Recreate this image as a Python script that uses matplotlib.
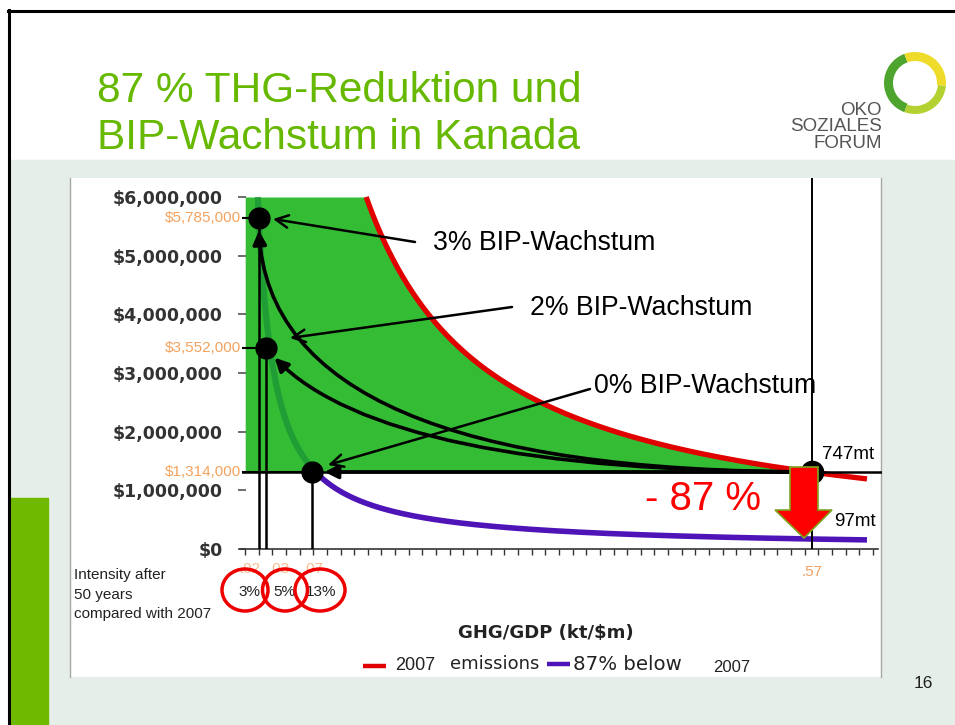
import numpy as np
import matplotlib
matplotlib.use("Agg")
import matplotlib.pyplot as plt
from matplotlib.patches import Rectangle, Ellipse, Polygon, Wedge

# ---------------- data ----------------
emissions_2007_kt = 747000      # 747 mt
emissions_target_kt = 97000     # 97 mt (87 % below 2007)
emission_labels = ["747mt", "97mt"]
intensity_2007 = 0.57           # kt / $m
gdp_2007 = 1314000              # $m
gdp_cap = 6000000               # top of the shaded region
intensity_end = 0.625

scenario_names = ["3% BIP-Wachstum", "2% BIP-Wachstum", "0% BIP-Wachstum"]
scenario_intensity = [0.017, 0.0245, 0.0703]
scenario_gdp = [5640000, 3420000, 1314000]
scenario_gdp_labels = ["$5,785,000", "$3,552,000", "$1,314,000"]
intensity_labels = [".02", ".03", ".07"]
intensity_share = ["3%", "5%", "13%"]
intensity_2007_label = ".57"

y_ticks = [0, 1000000, 2000000, 3000000, 4000000, 5000000, 6000000]
y_tick_labels = ["$0", "$1,000,000", "$2,000,000", "$3,000,000",
                 "$4,000,000", "$5,000,000", "$6,000,000"]
x_tick_first, x_tick_step, x_tick_last = 0.0034, 0.01364, 0.634

title_lines = ["87 % THG-Reduktion und", "BIP-Wachstum in Kanada"]
reduction_label = "- 87 %"
x_axis_title = "GHG/GDP (kt/$m)"
intensity_note = ["Intensity after", "50 years", "compared with 2007"]
legend_items = ["2007", "emissions", "87% below", "2007"]
logo_lines = ["OKO", "SOZIALES", "FORUM"]
page_number = "16"

ARIAL = "Liberation Sans"
VERD = "DejaVu Sans"

# ---------------- figure ----------------
W, H = 955, 725
fig = plt.figure(figsize=(W / 100, H / 100), dpi=100)

bg = fig.add_axes([0, 0, 1, 1], zorder=0)
bg.set_xlim(0, W); bg.set_ylim(H, 0); bg.axis("off")
bg.add_patch(Rectangle((0, 0), W, H, color="white", zorder=0))
bg.add_patch(Rectangle((9, 160), W, H, color="#e5eee8", zorder=1))
bg.add_patch(Rectangle((70, 178), 811, 499, facecolor="white", edgecolor="none", zorder=2))
bg.plot([70, 70], [178, 677], color="#a8a8a8", lw=1, zorder=3)
bg.plot([881, 881], [178, 677], color="#a8a8a8", lw=1, zorder=3)
bg.add_patch(Rectangle((10, 498), 38, 230, color="#6fba00", zorder=3))
bg.plot([8.5, 8.5], [10, 726], color="black", lw=2.2, zorder=4)
bg.plot([7.5, 956], [11, 11], color="black", lw=2.2, zorder=4)

bg.text(97, 102, title_lines[0], fontsize=30.5, color="#66b800", family=ARIAL, va="baseline")
bg.text(97, 149, title_lines[1], fontsize=30.5, color="#66b800", family=ARIAL, va="baseline")

# logo
def vis_wedge(c, r, a1, a2, w, col):
    bg.add_patch(Wedge(c, r, -a2, -a1, width=w, color=col, zorder=5, lw=0))
vis_wedge((915, 83), 31, 110, 250, 9, "#4ea52e")
vis_wedge((915, 83), 31, 250, 355, 8, "#b3d232")
vis_wedge((915, 83), 31, -5, 110, 9, "#efdc2a")
for i, s in enumerate(logo_lines):
    bg.text(882, 110 + 16.5 * i, s, fontsize=13.5, color="#555555", family=ARIAL,
            ha="right", va="center")
bg.text(923.5, 683.5, page_number, fontsize=12.5, color="#222222", family=ARIAL,
        ha="center", va="center")

# ---------------- chart axes ----------------
x0_px, y0_px, right_px, top_px = 241.6, 549.0, 882.0, 178.0
px_per_x = 1000.6
px_per_million = 58.667
ax = fig.add_axes([x0_px / W, 1 - y0_px / H, (right_px - x0_px) / W, (y0_px - top_px) / H], zorder=2)
ax.patch.set_alpha(0)
xmax = (right_px - x0_px) / px_per_x
ymax = (y0_px - top_px) / px_per_million * 1e6
ax.set_xlim(0, xmax)
ax.set_ylim(0, ymax)

for s in ["top", "right", "left"]:
    ax.spines[s].set_visible(False)
ax.spines["bottom"].set_bounds(-0.0016, x_tick_last + 0.002)
ax.spines["bottom"].set_color("#333333")
ax.spines["bottom"].set_linewidth(1.2)

ax.set_xticks(np.arange(x_tick_first, x_tick_last, x_tick_step))
ax.tick_params(axis="x", direction="out", length=4, width=1, color="#333333", labelbottom=False)
ax.set_yticks(y_ticks, y_tick_labels)
ax.tick_params(axis="y", direction="inout", length=6, width=1.2, color="#555555",
               labelcolor="#333333", pad=10.4)
for lab in ax.get_yticklabels():
    lab.set_fontfamily(VERD); lab.set_fontweight("bold"); lab.set_fontsize(12.5)

# green region between 2007 emissions curve and 2007 GDP
xf = np.linspace(0.0036, emissions_2007_kt / gdp_2007, 500)
ax.fill_between(xf, gdp_2007, np.minimum(emissions_2007_kt / xf, gdp_cap),
                color="#34bd34", lw=0, zorder=1)
# dark green continuation of 97mt curve
xg = np.linspace(emissions_target_kt / gdp_cap, scenario_intensity[2], 300)
ax.plot(xg, emissions_target_kt / xg, color="#1a9436", lw=4.5, alpha=0.75, zorder=2,
        solid_capstyle="butt")
# 2007 emissions curve
xr = np.linspace(emissions_2007_kt / gdp_cap, intensity_end, 400)
ax.plot(xr, emissions_2007_kt / xr, color="#e00000", lw=3.8, zorder=3, solid_capstyle="butt")
# 87 % below curve
xp = np.linspace(scenario_intensity[2], intensity_end, 400)
ax.plot(xp, emissions_target_kt / xp, color="#4f14b8", lw=4, zorder=3, solid_capstyle="butt")

# reference lines
ax.plot([-0.0016, xmax], [gdp_2007, gdp_2007], color="black", lw=1.8, zorder=4)
ax.plot([intensity_2007, intensity_2007], [0, ymax], color="black", lw=1.4, zorder=4)
for xi, yi in zip(scenario_intensity, scenario_gdp):
    ax.plot([xi, xi], [0, yi], color="black", lw=1.8, zorder=4)
    ax.plot([0, xi], [yi, yi], color="black", lw=1.5, zorder=4)

# curved growth paths
angleBs = [90, 130]
for (xi, yi), aB in zip(zip(scenario_intensity[:2], scenario_gdp[:2]), angleBs):
    ax.annotate("", xy=(xi, yi), xytext=(intensity_2007, gdp_2007), zorder=5,
                arrowprops=dict(arrowstyle="-|>", connectionstyle=f"angle3,angleA=0,angleB={aB}",
                                lw=2.6, color="black", shrinkA=0, shrinkB=9, mutation_scale=20))
ax.annotate("", xy=(scenario_intensity[2], gdp_2007), xytext=(intensity_2007, gdp_2007), zorder=5,
            arrowprops=dict(arrowstyle="-|>", lw=2.6, color="black", shrinkA=0, shrinkB=9,
                            mutation_scale=20))

# dots
ax.plot(scenario_intensity, scenario_gdp, "o", color="black", ms=15, zorder=6)
ax.plot([intensity_2007], [gdp_2007], "o", color="black", ms=16, zorder=6)

# orange GDP labels
for yi, lab in zip(scenario_gdp, scenario_gdp_labels):
    ax.text(-0.0008, yi, lab, ha="right", va="center", color="#f3a25e", fontsize=11, family=ARIAL)

# ---------------- overlay ----------------
ov = fig.add_axes([0, 0, 1, 1], zorder=3)
ov.set_xlim(0, W); ov.set_ylim(H, 0); ov.axis("off"); ov.patch.set_alpha(0)

text_pos = [(433, 243), (530, 308), (594, 386)]
arrow_from = [(415, 242), (512, 307), (590, 389)]
arrow_to = [(273, 219), (290, 338), (328, 465)]
for name, tp, a0, a1 in zip(scenario_names, text_pos, arrow_from, arrow_to):
    ov.text(tp[0], tp[1], name, fontsize=19.2, family=ARIAL, ha="left", va="center", color="black")
    ov.annotate("", xy=a1, xytext=a0,
                arrowprops=dict(arrowstyle="->,head_length=0.6,head_width=0.3", lw=1.8,
                                color="black", shrinkA=0, shrinkB=0, mutation_scale=15))

ov.text(822, 454, emission_labels[0], fontsize=13.5, family=ARIAL, ha="left", va="center")
ov.text(834, 522, emission_labels[1], fontsize=13.5, family=ARIAL, ha="left", va="center")
ov.text(703, 499, reduction_label, fontsize=29, family=ARIAL, color="#ff0000", ha="center", va="center")

# big red arrow
arrow_pts = [(790, 467), (818, 467), (818, 510), (832, 510), (804, 538), (775, 510), (790, 510)]
ov.add_patch(Polygon(arrow_pts, closed=True, facecolor="#ff0000", edgecolor="#7ea622", lw=1.2, zorder=5))

# intensity labels
for xpx, lab in zip([250, 279, 313], intensity_labels):
    ov.text(xpx, 569, lab, fontsize=11, family=ARIAL, color="#f5bc90", ha="center", va="center")
ov.text(812, 572, intensity_2007_label, fontsize=11, family=ARIAL, color="#efa060", ha="center", va="center")
for xpx, lab in zip([249, 284, 321], intensity_share):
    ov.text(xpx, 592, lab, fontsize=11, family=ARIAL, color="#222222", ha="center", va="center")
for cx, w in zip([245, 285, 320], [46, 45, 50]):
    ov.add_patch(Ellipse((cx, 590), w, 42, facecolor="none", edgecolor="#ee0000", lw=2.5, zorder=6))

for i, s in enumerate(intensity_note):
    ov.text(74, 575 + 19.5 * i, s, fontsize=11, family=ARIAL, color="#222222", ha="left", va="center")

ov.text(458, 633, x_axis_title, fontsize=13, family=VERD, fontweight="bold", color="#222222",
        ha="left", va="center")

# legend
ov.plot([363, 386], [666, 666], color="#e00000", lw=3.2, solid_capstyle="butt")
ov.text(395, 666, legend_items[0], fontsize=13, family=ARIAL, ha="left", va="center", color="#222222")
ov.text(450, 664, legend_items[1], fontsize=13, family=VERD, ha="left", va="center", color="#222222")
ov.plot([547, 570], [664, 664], color="#4f14b8", lw=3.2, solid_capstyle="butt")
ov.text(573, 664, legend_items[2], fontsize=14.2, family=VERD, ha="left", va="center", color="#222222")
ov.text(713, 668, legend_items[3], fontsize=12, family=ARIAL, ha="left", va="center", color="#222222")

fig.savefig("out.png", dpi=100)
